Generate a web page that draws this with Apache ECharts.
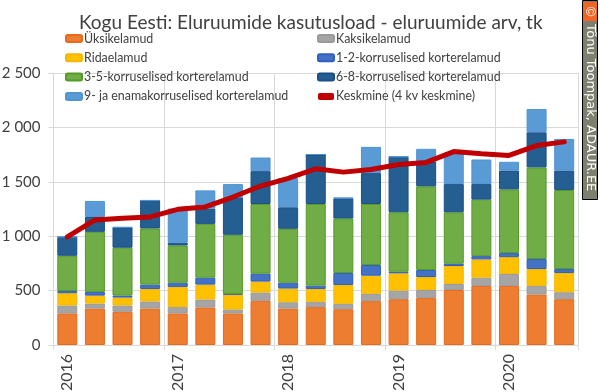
<!DOCTYPE html>
<html>
<head>
<meta charset="utf-8">
<style>
  html, body { margin: 0; padding: 0; background: #fff; }
  #chart { width: 600px; height: 392px; }
</style>
<script src="https://cdn.jsdelivr.net/npm/echarts@6/dist/echarts.min.js"></script>
</head>
<body>
<div id="chart"></div>
<script>
const categories = ['2016','','','','2017','','','','2018','','','','2019','','','','2020','',''];
const yTicks = [0, 500, 1000, 1500, 2000, 2500];
const yLabels = ['0', '500', '1 000', '1 500', '2 000', '2 500'];

const yksikelamud = [290,335,305,335,290,345,290,406,335,348,329,403,421,433,506,543,543,464,421];
const kaksikelamud = [73,46,58,65,58,73,36,76,58,49,49,67,79,73,55,76,110,79,64];
const ridaelamud = [113,73,73,115,186,137,138,101,126,118,174,167,159,119,165,168,155,155,177];
const korrus12 = [21,34,18,40,39,64,6,73,54,31,110,98,15,64,21,30,37,92,36];
const korrus35 = [323,552,440,516,342,494,543,640,495,750,500,561,546,769,473,519,585,842,726];
const korrus68 = [174,137,186,256,24,141,344,302,198,455,186,284,509,229,259,143,174,323,180];
const korrus9 = [0,147,3,3,315,167,122,125,268,0,6,241,3,116,290,226,80,214,290];
const keskmine = [994,1150,1165,1177,1247,1269,1360,1461,1531,1620,1589,1613,1659,1678,1778,1757,1742,1833,1867];

const stacks = [
  ['Üksikelamud', yksikelamud, '#ed7d31', '#e8691a'],
  ['Kaksikelamud', kaksikelamud, '#a5a5a5', '#9a9a9a'],
  ['Ridaelamud', ridaelamud, '#ffc000', '#f5b800'],
  ['1-2-korruselised korterelamud', korrus12, '#4472c4', '#2f5fc0'],
  ['3-5-korruselised korterelamud', korrus35, '#70ad47', '#559a25'],
  ['6-8-korruselised korterelamud', korrus68, '#255e91', '#1a5088'],
  ['9- ja enamakorruselised korterelamud', korrus9, '#5b9bd5', '#4f93d3']
];
const lineName = 'Keskmine (4 kv keskmine)';

const series = stacks.map(s => ({
  name: s[0],
  type: 'bar',
  stack: 'kokku',
  data: s[1],
  barWidth: 20,
  itemStyle: { color: s[2], borderColor: s[3], borderWidth: 1 }
}));
series.push({
  name: lineName,
  type: 'line',
  data: keskmine,
  symbol: 'none',
  z: 5,
  lineStyle: { color: '#c00000', width: 5, cap: 'round', join: 'round' },
  itemStyle: { color: '#c00000' }
});

const legendText = { color: '#404040', fontFamily: 'Lato', fontSize: 12.4 };
function legendCol(left, names) {
  return {
    orient: 'vertical', left: left, top: 26,
    itemWidth: 16, itemHeight: 7, itemGap: 4.3,
    textStyle: Object.assign({ padding: [0, 0, 0, -3], lineHeight: 15 }, legendText),
    selectedMode: false,
    data: names
  };
}

const chart = echarts.init(document.getElementById('chart'), null, { renderer: 'canvas' });
chart.setOption({
  animation: false,
  backgroundColor: '#fff',
  title: {
    text: 'Kogu Eesti: Eluruumide kasutusload - eluruumide arv, tk',
    left: 74, top: 8,
    textStyle: { color: '#404040', fontFamily: 'Lato', fontSize: 19, fontWeight: 'normal' }
  },
  legend: [
    legendCol(60, [stacks[0][0], stacks[2][0], stacks[4][0], stacks[6][0]]),
    legendCol(312, [stacks[1][0], stacks[3][0], stacks[5][0], { name: lineName, icon: 'roundRect' }])
  ],
  grid: { left: 53.5, right: 22, top: 73, bottom: 47, outerBoundsMode: 'none' },
  xAxis: {
    type: 'category',
    data: categories,
    axisLine: { lineStyle: { color: '#d9d9d9' } },
    axisTick: { show: true, length: 5, interval: i => i % 4 === 0, lineStyle: { color: '#d9d9d9' } },
    axisLabel: { interval: 0, rotate: 90, color: '#404040', fontFamily: 'Lato', fontSize: 16, margin: 9, verticalAlign: 'middle' },
    splitLine: { show: true, interval: i => i % 4 === 0, lineStyle: { color: '#d9d9d9' } }
  },
  yAxis: {
    type: 'value',
    min: 0,
    max: 2500,
    interval: 500,
    axisLine: { show: false },
    axisTick: { show: true, length: 5, lineStyle: { color: '#d9d9d9' } },
    axisLabel: {
      color: '#404040', fontFamily: 'Lato', fontSize: 15, margin: 13,
      formatter: v => yLabels[yTicks.indexOf(v)]
    },
    splitLine: { show: true, lineStyle: { color: '#d9d9d9' } }
  },
  series: series,
  graphic: [
    { type: 'rect', shape: { x: 582.5, y: 0.5, width: 15, height: 199 }, style: { fill: '#7f7f6f', stroke: '#000' } },
    { type: 'rect', shape: { x: 583, y: 2, width: 14, height: 19 }, style: { fill: '#f26522' } },
    { type: 'text', x: 590, y: 11.5, rotation: -Math.PI / 2, style: { text: '©', fill: '#fff', font: '13px "Liberation Sans"', align: 'center', verticalAlign: 'middle' } },
    { type: 'text', x: 590, y: 24, rotation: -Math.PI / 2, style: { text: 'Tõnu Toompak, ADAUR.EE', fill: '#fff', font: '13px "DejaVu Sans"', align: 'left', verticalAlign: 'middle' } }
  ]
});
</script>
</body>
</html>
